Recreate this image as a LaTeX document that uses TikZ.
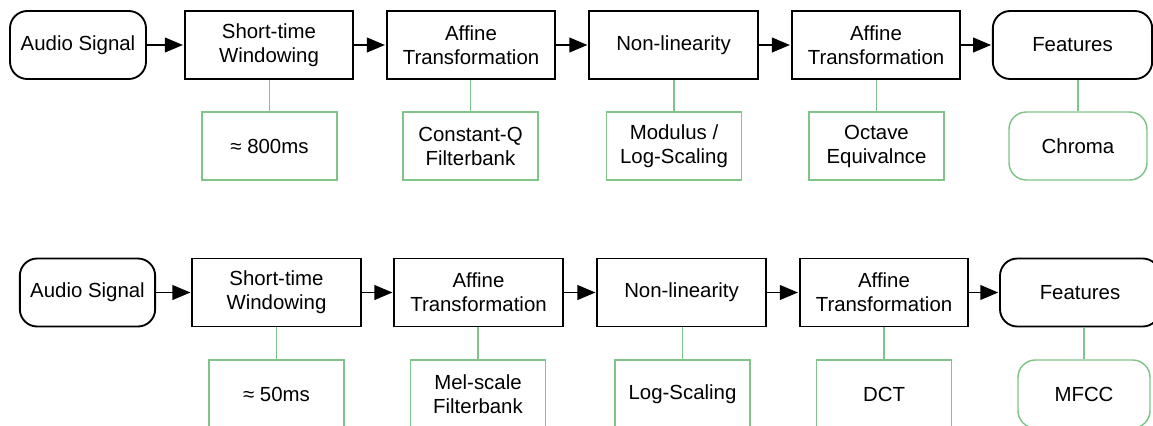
\documentclass[tikz,border=0pt]{standalone}
\usepackage{fontspec}
\setmainfont{Liberation Sans}
\usetikzlibrary{arrows.meta}
\definecolor{leaf}{RGB}{128,196,138}
\tikzset{
  every node/.style={font=\fontsize{15.3}{18}\selectfont, align=center, inner sep=0pt},
  stage/.style={draw=black, line width=1.4pt, minimum height=51pt, minimum width=126.5pt},
  term/.style={stage, rounded corners=13pt},
  note/.style={draw=leaf, line width=1.1pt, minimum height=51pt, minimum width=101pt},
  noteR/.style={note, rounded corners=13pt},
  flow/.style={line width=1.4pt, -{Triangle[length=13.5pt,width=11pt]}, shorten >=0.6pt},
  link/.style={draw=leaf, line width=1.1pt},
}
\begin{document}
\begin{tikzpicture}[x=0.75pt,y=-0.75pt]
\useasboundingbox (0,0) rectangle (1153,425);
\clip (0,0) rectangle (1153,425);

% chroma pipeline
\node[term, minimum width=102pt]   (a1) at (78,45)    {Audio Signal};
\node[stage]                       (w1) at (269,45)   {Short-time\\Windowing};
\node[stage]                       (f1) at (471,45)   {Affine\\Transformation};
\node[stage]                       (n1) at (673.5,45) {Non-linearity};
\node[stage]                       (t1) at (876,45)   {Affine\\Transformation};
\node[term, minimum width=119.5pt] (o1) at (1072.5,45){Features};

\node[note]  (w1n) at (269.5,146) {≈ 800ms};
\node[note]  (f1n) at (470.5,146) {Constant-Q\\Filterbank};
\node[note]  (n1n) at (674,146)   {Modulus /\\Log-Scaling};
\node[note]  (t1n) at (876.5,146) {Octave\\Equivalnce};
\node[noteR, minimum width=103.5pt] (o1n) at (1078,146) {Chroma};

\draw[flow] (a1) -- (w1);
\draw[flow] (w1) -- (f1);
\draw[flow] (f1) -- (n1);
\draw[flow] (n1) -- (t1);
\draw[flow] (t1) -- (o1);

\foreach \up/\dn in {w1/w1n, f1/f1n, n1/n1n, t1/t1n, o1/o1n}
  \draw[link] (\dn.north) -- (\dn.north |- \up.south);

% MFCC pipeline
\node[term, minimum width=101.5pt] (a2) at (87.5,292.5) {Audio Signal};
\node[stage]                       (w2) at (276.5,292.5) {Short-time\\Windowing};
\node[stage]                       (f2) at (478.5,292.5) {Affine\\Transformation};
\node[stage]                       (n2) at (681.5,292.5) {Non-linearity};
\node[stage]                       (t2) at (884,292.5)   {Affine\\Transformation};
\node[term, minimum width=120pt]   (o2) at (1080,292.5)  {Features};

\node[note]  (w2n) at (276.5,394) {≈ 50ms};
\node[note]  (f2n) at (478,394)   {Mel-scale\\Filterbank};
\node[note]  (n2n) at (682.5,394) {Log-Scaling};
\node[note]  (t2n) at (884,394)   {DCT};
\node[noteR, minimum width=99pt] (o2n) at (1084,394) {MFCC};

\draw[flow] (a2) -- (w2);
\draw[flow] (w2) -- (f2);
\draw[flow] (f2) -- (n2);
\draw[flow] (n2) -- (t2);
\draw[flow] (t2) -- (o2);

\foreach \up/\dn in {w2/w2n, f2/f2n, n2/n2n, t2/t2n, o2/o2n}
  \draw[link] (\dn.north) -- (\dn.north |- \up.south);
\end{tikzpicture}
\end{document}
